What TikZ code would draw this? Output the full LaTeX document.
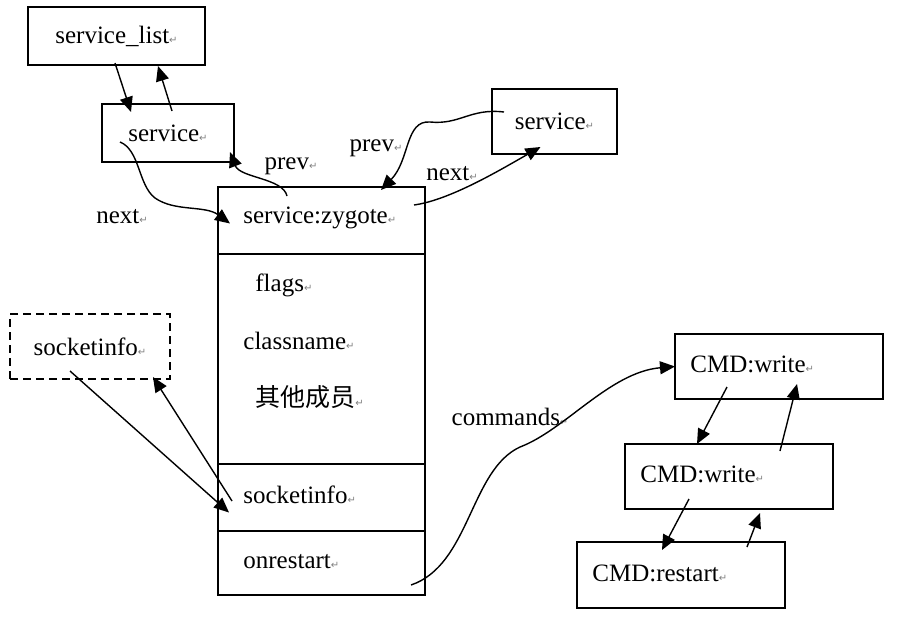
\documentclass[tikz,border=0pt]{standalone}
\usepackage{fontspec}
\setmainfont{Liberation Serif}
\newfontfamily\cjk{Noto Sans CJK SC}
\newfontfamily\symfont{DejaVu Sans}
\usetikzlibrary{arrows.meta,positioning}
\newcommand{\pmark}{{\symfont\fontsize{5}{5}\selectfont\color{gray}↵}}

\begin{document}
\begin{tikzpicture}
			[
				x=0.5pt, y=-0.5pt,
				font=\fontsize{12.5}{15}\selectfont,
				box/.style={draw, line width=1pt, inner sep=0pt},
				tag/.style={draw=none, fill=none, inner sep=1pt},
				arrow/.style={-{Triangle[length=7.5pt,width=6.5pt]}, line width=0.7pt}
			]

			\useasboundingbox (0,0) rectangle (899,622);

			% list heads
			\node[box, minimum width=88.5pt, minimum height=29pt] (slist) at (116.5,36) {service\_list\pmark};
			\node[box, minimum width=66pt, minimum height=29pt] (svcL) at (168,133) {service\pmark};
			\node[box, minimum width=62.5pt, minimum height=32.5pt] (svcR) at (554.5,121.5) {service\pmark};
			\node[box, dash pattern=on 4pt off 2.5pt, minimum width=80pt, minimum height=32.5pt] (sockx) at (90,346.5) {socketinfo\pmark};

			% service:zygote record
			\node[box, minimum width=103.5pt, minimum height=33.5pt] (zyg) at (321.5,220.5) {};
			\node[box, minimum width=103.5pt, minimum height=105pt] (mem) at (321.5,359) {};
			\node[box, minimum width=103.5pt, minimum height=33.5pt] (sock) at (321.5,497.5) {};
			\node[box, minimum width=103.5pt, minimum height=32pt] (onr) at (321.5,563) {};

			\node[tag, anchor=west] (zygt) at (241,218) {service:zygote\pmark};
			\node[tag, anchor=west] (flags) at (253,285) {flags\pmark};
			\node[tag, anchor=west] (cname) at (241,341) {classname\pmark};
			\node[tag, anchor=west] (others) at (253,397) {{\cjk 其他成员}\pmark};
			\node[tag, anchor=west] (sockt) at (241,495) {socketinfo\pmark};
			\node[tag, anchor=west] (onrt) at (241,562) {onrestart\pmark};

			% commands list
			\node[box, minimum width=104pt, minimum height=32.5pt] (cmd1) at (779,366.5) {};
			\node[box, minimum width=104pt, minimum height=32.5pt] (cmd2) at (729,476.5) {};
			\node[box, minimum width=104pt, minimum height=33pt] (cmd3) at (681,575) {};

			\node[tag, anchor=west] (cmd1t) at (688,364) {CMD:write\pmark};
			\node[tag, anchor=west] (cmd2t) at (638,474) {CMD:write\pmark};
			\node[tag, anchor=west] (cmd3t) at (590,573) {CMD:restart\pmark};

			% link labels
			\node[tag] (nextL) at (122,217) {next\pmark};
			\node[tag] (prevM) at (291,166) {prev\pmark};
			\node[tag] (prevR) at (376,148) {prev\pmark};
			\node[tag] (nextR) at (452,174) {next\pmark};
			\node[tag] (cmds) at (510,417) {commands\pmark};

			% straight links
			\draw[arrow] ([shift={(-1.5,-3)}]slist.south) -- ([shift={(-37,9)}]svcL.north);
			\draw[arrow] ([shift={(4,8)}]svcL.north) -- ([shift={(41.5,0)}]slist.south);
			\draw[arrow] ([shift={(-20,-9)}]sockx.south) -- ([shift={(12,15)}]sock.west);
			\draw[arrow] ([shift={(15,3.5)}]sock.west) -- ([shift={(-18,-3)}]sockx.south east);
			\draw[arrow] ([shift={(-52,-13)}]cmd1.south) -- ([shift={(-32,1)}]cmd2.north);
			\draw[arrow] ([shift={(51,8)}]cmd2.north) -- ([shift={(18,-16)}]cmd1.south);
			\draw[arrow] ([shift={(-40,-11)}]cmd2.south) -- ([shift={(-19,9)}]cmd3.north);
			\draw[arrow] ([shift={(66,6)}]cmd3.north) -- ([shift={(31,3)}]cmd2.south);

			% curved links
			\draw[arrow] ([shift={(-48,9)}]svcL.center) .. controls (140,150) and (138,185) .. (155,198)
				.. controls (175,212) and (205,205) .. ([shift={(13,3)}]zyg.west);
			\draw[arrow] ([shift={(-34.5,10)}]zyg.north) .. controls (283,178) and (240,178) .. ([shift={(-5,-11)}]svcL.south east);
			\draw[arrow] ([shift={(13,-9.5)}]svcR.west) .. controls (470,108) and (460,125) .. (430,122)
				.. controls (405,120) and (410,160) .. ([shift={(59.5,4)}]zyg.north);
			\draw[arrow] ([shift={(-12,-15.5)}]zyg.east) .. controls (450,200) and (500,170) .. ([shift={(-14,-8)}]svcR.south);
			\draw[arrow] ([shift={(-15,22)}]onr.east) .. controls (470,565) and (470,470) .. (520,447)
				.. controls (565,430) and (610,372) .. ([shift={(1,0)}]cmd1.west);

		\end{tikzpicture}
\end{document}
